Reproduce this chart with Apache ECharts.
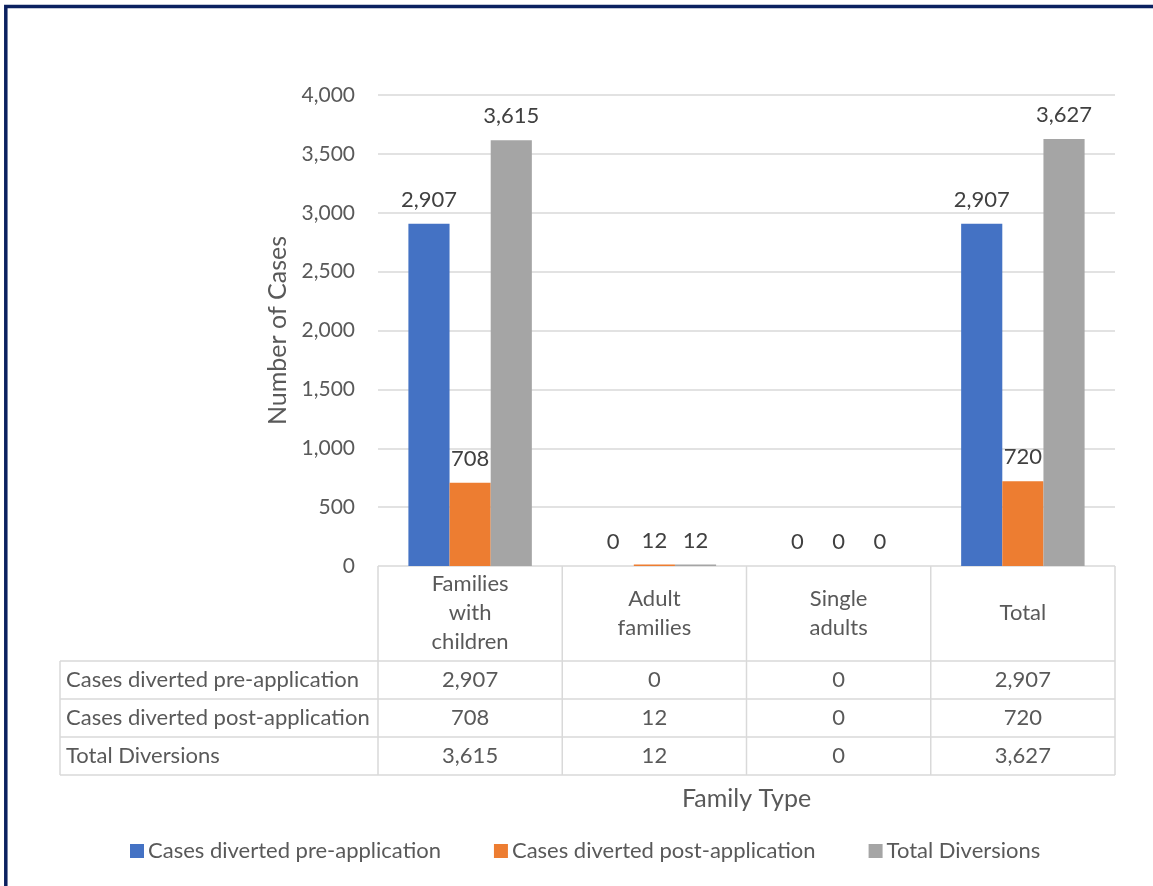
<!DOCTYPE html>
<html>
<head>
<meta charset="utf-8">
<script src="https://cdn.jsdelivr.net/npm/echarts@6/dist/echarts.min.js"></script>
<style>
  html, body { margin: 0; padding: 0; background: #fff; }
  #chart { width: 1153px; height: 886px; }
</style>
</head>
<body>
<div id="chart"></div>
<script>
// data
var categories = ['Families\nwith\nchildren', 'Adult\nfamilies', 'Single\nadults', 'Total'];
var seriesNames = ['Cases diverted pre-application', 'Cases diverted post-application', 'Total Diversions'];
var preApplication = [2907, 0, 0, 2907];
var postApplication = [708, 12, 0, 720];
var totalDiversions = [3615, 12, 0, 3627];
var yTicks = [0, 500, 1000, 1500, 2000, 2500, 3000, 3500, 4000];

var colors = ['#4472C4', '#ED7D31', '#A5A5A5'];
var FONT = 'Lato, "Noto Sans", sans-serif';
var textColor = '#595959';
var lineColor = '#D9D9D9';
var FS = 22;

var gridLeft = 378, gridRight = 38, gridTop = 95, gridBottom = 320;

function fmt(v) {
    return v.toLocaleString('en-US');
}

var chart = echarts.init(document.getElementById('chart'), null, { renderer: 'canvas' });

var allSeries = [preApplication, postApplication, totalDiversions];

var option = {
    animation: false,
    textStyle: { fontFamily: FONT, fontSize: FS },
    color: colors,
    grid: { left: gridLeft, right: gridRight, top: gridTop, bottom: gridBottom, containLabel: false },
    legend: {
        left: 125,
        top: 835,
        icon: 'rect',
        itemWidth: 14,
        itemHeight: 14,
        itemGap: 53,
        textStyle: { fontSize: FS, color: textColor, fontFamily: FONT, padding: [0, 0, 0, -1] },
        data: seriesNames
    },
    xAxis: {
        type: 'category',
        data: categories,
        name: 'Family Type',
        nameLocation: 'middle',
        nameGap: 220,
        nameTextStyle: { fontSize: 25, color: textColor, fontFamily: FONT },
        axisLine: { show: false },
        axisTick: { show: false },
        axisLabel: {
            fontSize: FS,
            color: textColor,
            lineHeight: 29,
            margin: 47,
            verticalAlign: 'middle',
            align: 'center'
        }
    },
    yAxis: {
        type: 'value',
        min: yTicks[0],
        max: yTicks[yTicks.length - 1],
        interval: 500,
        name: 'Number of Cases',
        nameLocation: 'middle',
        nameGap: 86,
        nameTextStyle: { fontSize: 25, color: textColor, fontFamily: FONT },
        axisLine: { show: false },
        axisTick: { show: false },
        axisLabel: {
            fontSize: 21,
            color: textColor,
            margin: 23,
            formatter: function (v) { return fmt(v); }
        },
        splitLine: { lineStyle: { color: lineColor, width: 1.5 } }
    },
    series: seriesNames.map(function (name, i) {
        return {
            name: name,
            type: 'bar',
            data: allSeries[i],
            barGap: '0%',
            barCategoryGap: '33%',
            itemStyle: { color: colors[i] },
            label: {
                show: true,
                position: 'top',
                distance: 13,
                fontSize: FS,
                color: '#404040',
                formatter: function (p) { return fmt(p.value); }
            }
        };
    })
};

chart.setOption(option);

// data table under the plot, positioned from the category axis
var band = (chart.getWidth() - gridLeft - gridRight) / categories.length;
var tableTop = chart.getHeight() - gridBottom; // y of zero line
var headerBottom = 661;
var rowH = 38;
var tableLeft = 60;
var tableRight = gridLeft + band * categories.length;

var graphics = [];
function hline(x1, x2, y) {
    graphics.push({ type: 'line', shape: { x1: x1, y1: y, x2: x2, y2: y }, style: { stroke: lineColor, lineWidth: 1.5 }, silent: true });
}
function vline(x, y1, y2) {
    graphics.push({ type: 'line', shape: { x1: x, y1: y1, x2: x, y2: y2 }, style: { stroke: lineColor, lineWidth: 1.5 }, silent: true });
}

var tableBottom = headerBottom + rowH * seriesNames.length;
for (var r = 0; r <= seriesNames.length; r++) {
    hline(tableLeft, tableRight, headerBottom + rowH * r);
}
for (var c = 0; c <= categories.length; c++) {
    vline(gridLeft + band * c, tableTop, tableBottom);
}
vline(tableLeft, headerBottom, tableBottom);

seriesNames.forEach(function (name, r) {
    var cy = headerBottom + rowH * r + rowH / 2;
    graphics.push({
        type: 'text', x: tableLeft + 6, y: cy,
        style: { text: name, fill: textColor, font: FS + 'px ' + FONT, textAlign: 'left', textVerticalAlign: 'middle' },
        silent: true
    });
    allSeries[r].forEach(function (v, ci) {
        var cx = chart.convertToPixel({ xAxisIndex: 0 }, categories[ci]);
        graphics.push({
            type: 'text', x: cx, y: cy,
            style: { text: fmt(v), fill: textColor, font: FS + 'px ' + FONT, textAlign: 'center', textVerticalAlign: 'middle' },
            silent: true
        });
    });
});

// navy frame at top and left
graphics.push({
    type: 'polyline',
    shape: { points: [[5.8, 886], [5.8, 6.5], [1153, 6.5]] },
    style: { stroke: '#0B2160', lineWidth: 3.5, fill: null },
    silent: true
});

chart.setOption({ graphic: graphics });
</script>
</body>
</html>
